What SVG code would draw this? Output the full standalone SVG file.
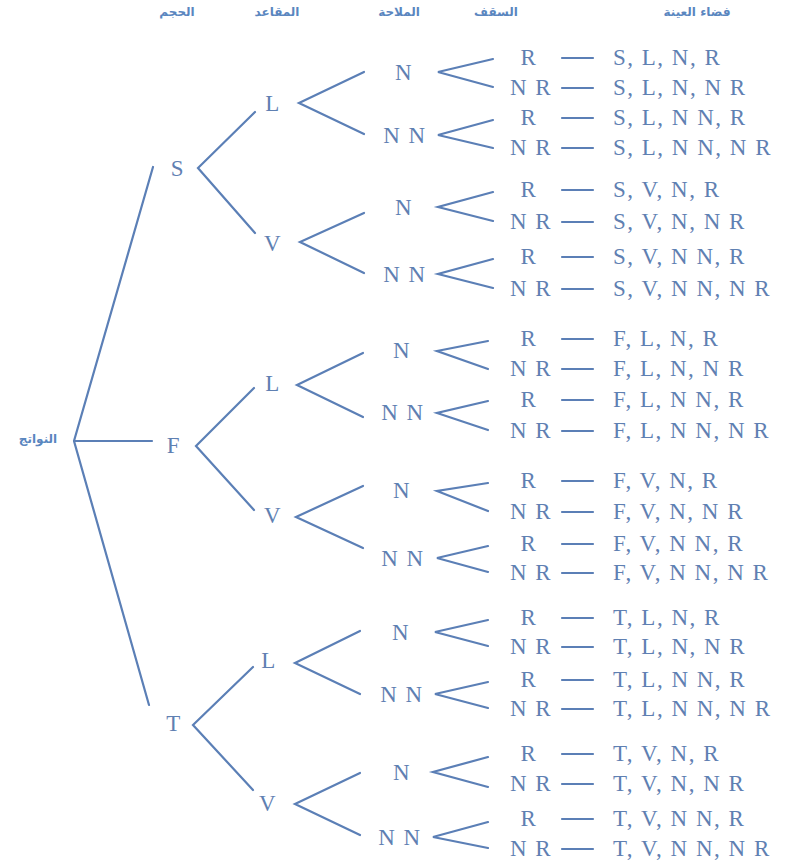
<svg xmlns="http://www.w3.org/2000/svg" width="790" height="867" viewBox="0 0 790 867">
<style>
.l{stroke:#5b7fb6;stroke-width:2.2;fill:none;stroke-linecap:round}
.t{font-family:"Liberation Serif",serif;font-size:23px;fill:#5f80b2;letter-spacing:1.5px}
.m{text-anchor:middle}
.h{font-family:"DejaVu Sans",sans-serif;font-size:12px;font-weight:bold;fill:#5a86bf;text-anchor:middle}
</style>
<rect width="790" height="867" fill="#ffffff"/>
<g id="headers">
<text class="h" x="697" y="16">فضاء العينة</text>
<text class="h" x="496" y="16">السقف</text>
<text class="h" x="399" y="16">الملاحة</text>
<text class="h" x="277" y="16">المقاعد</text>
<text class="h" x="177" y="16">الحجم</text>
</g>
<g id="root"><text class="h" x="38" y="443">النواتج</text></g>
<g id="connectors">
<path class="l" d="M153,167 L74,441 L149,705 M74,441 H152"/>
<path class="l" d="M255,112 L198,168 L255,233"/>
<path class="l" d="M254,388 L196,446 L254,510"/>
<path class="l" d="M253,667 L193,725 L253,790"/>
<path class="l" d="M364,72 L299,103 L364,134"/>
<path class="l" d="M364,213 L300,242 L364,273"/>
<path class="l" d="M363,353 L297,385 L363,417"/>
<path class="l" d="M363,486 L296,517 L363,548"/>
<path class="l" d="M360,631 L295,663 L360,694"/>
<path class="l" d="M360,773 L295,804 L360,835"/>
<path class="l" d="M493,59 L438,72 L493,87 M493,120 L438,135 L493,148"/>
<path class="l" d="M493,192 L438,207 L493,221 M493,259 L438,274 L493,288"/>
<path class="l" d="M488,341 L437,351 L488,369 M488,401 L437,413 L488,430"/>
<path class="l" d="M488,483 L437,491 L488,511 M488,546 L437,558 L488,572"/>
<path class="l" d="M488,620 L435,632 L488,646 M488,682 L435,694 L488,708"/>
<path class="l" d="M488,757 L433,772 L488,787 M488,822 L433,837 L488,848"/>
<path class="l" d="M562,58H593M562,88H593M562,118H593M562,148H593"/>
<path class="l" d="M562,190H593M562,222H593M562,257H593M562,289H593"/>
<path class="l" d="M562,339H593M562,369H593M562,400H593M562,431H593"/>
<path class="l" d="M562,481H593M562,512H593M562,544H593M562,573H593"/>
<path class="l" d="M562,618H593M562,647H593M562,680H593M562,709H593"/>
<path class="l" d="M562,754H593M562,784H593M562,819H593M562,849H593"/>
</g>
<g id="n-S"><text class="t m" x="178" y="176">S</text></g>
<g id="n-F"><text class="t m" x="174" y="453">F</text></g>
<g id="n-T"><text class="t m" x="174" y="731">T</text></g>
<g id="n-SL"><text class="t m" x="273" y="111">L</text></g>
<g id="n-SV"><text class="t m" x="273" y="251">V</text></g>
<g id="n-FL"><text class="t m" x="273" y="391">L</text></g>
<g id="n-FV"><text class="t m" x="273" y="523">V</text></g>
<g id="n-TL"><text class="t m" x="269" y="668">L</text></g>
<g id="n-TV"><text class="t m" x="268" y="811">V</text></g>
<g id="g-SL">
<text class="t m" x="404" y="80">N</text><text class="t m" x="405" y="143">N N</text>
<text class="t m" x="529" y="65">R</text><text class="t m" x="531" y="95">N R</text><text class="t m" x="529" y="125">R</text><text class="t m" x="531" y="155">N R</text>
<text class="t" x="613" y="65">S, L, N, R</text><text class="t" x="613" y="95">S, L, N, N R</text><text class="t" x="613" y="125">S, L, N N, R</text><text class="t" x="613" y="155">S, L, N N, N R</text>
</g>
<g id="g-SV">
<text class="t m" x="404" y="215">N</text><text class="t m" x="405" y="282">N N</text>
<text class="t m" x="529" y="197">R</text><text class="t m" x="531" y="229">N R</text><text class="t m" x="529" y="264">R</text><text class="t m" x="531" y="296">N R</text>
<text class="t" x="613" y="197">S, V, N, R</text><text class="t" x="613" y="229">S, V, N, N R</text><text class="t" x="613" y="264">S, V, N N, R</text><text class="t" x="613" y="296">S, V, N N, N R</text>
</g>
<g id="g-FL">
<text class="t m" x="402" y="358">N</text><text class="t m" x="403" y="420">N N</text>
<text class="t m" x="529" y="346">R</text><text class="t m" x="531" y="376">N R</text><text class="t m" x="529" y="407">R</text><text class="t m" x="531" y="438">N R</text>
<text class="t" x="613" y="346">F, L, N, R</text><text class="t" x="613" y="376">F, L, N, N R</text><text class="t" x="613" y="407">F, L, N N, R</text><text class="t" x="613" y="438">F, L, N N, N R</text>
</g>
<g id="g-FV">
<text class="t m" x="402" y="498">N</text><text class="t m" x="403" y="566">N N</text>
<text class="t m" x="529" y="488">R</text><text class="t m" x="531" y="519">N R</text><text class="t m" x="529" y="551">R</text><text class="t m" x="531" y="580">N R</text>
<text class="t" x="613" y="488">F, V, N, R</text><text class="t" x="613" y="519">F, V, N, N R</text><text class="t" x="613" y="551">F, V, N N, R</text><text class="t" x="613" y="580">F, V, N N, N R</text>
</g>
<g id="g-TL">
<text class="t m" x="401" y="640">N</text><text class="t m" x="402" y="702">N N</text>
<text class="t m" x="529" y="625">R</text><text class="t m" x="531" y="654">N R</text><text class="t m" x="529" y="687">R</text><text class="t m" x="531" y="716">N R</text>
<text class="t" x="613" y="625">T, L, N, R</text><text class="t" x="613" y="654">T, L, N, N R</text><text class="t" x="613" y="687">T, L, N N, R</text><text class="t" x="613" y="716">T, L, N N, N R</text>
</g>
<g id="g-TV">
<text class="t m" x="402" y="780">N</text><text class="t m" x="400" y="845">N N</text>
<text class="t m" x="529" y="761">R</text><text class="t m" x="531" y="791">N R</text><text class="t m" x="529" y="826">R</text><text class="t m" x="531" y="856">N R</text>
<text class="t" x="613" y="761">T, V, N, R</text><text class="t" x="613" y="791">T, V, N, N R</text><text class="t" x="613" y="826">T, V, N N, R</text><text class="t" x="613" y="856">T, V, N N, N R</text>
</g>
</svg>
